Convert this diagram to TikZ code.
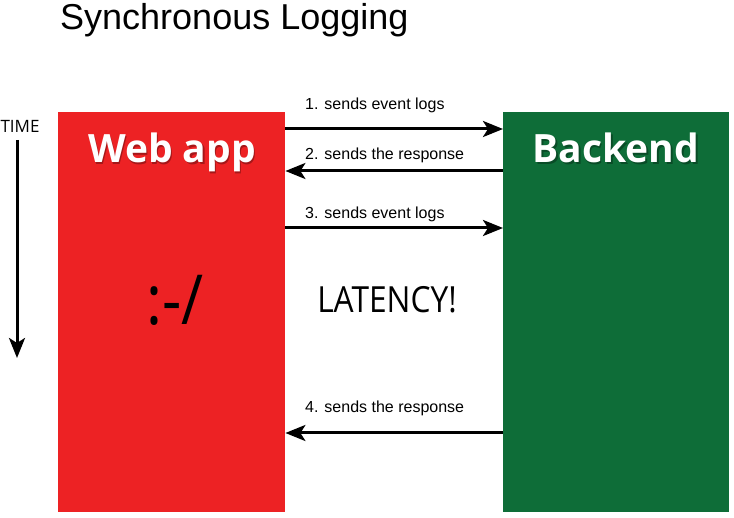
\documentclass[tikz,border=0pt]{standalone}
\usepackage{fontspec}
\setmainfont{Liberation Sans}
\newfontfamily\osans{Open Sans}
\usetikzlibrary{arrows.meta}
\definecolor{webred}{HTML}{ED2224}
\definecolor{bkgreen}{HTML}{0E6D38}
\begin{document}
\begin{tikzpicture}[x=1pt,y=-1pt,
  box/.style={draw=none,inner sep=0pt,minimum width=227pt,minimum height=400pt,anchor=north west},
  boxtitle/.style={font=\osans\bfseries\fontsize{39}{41}\selectfont,text=white,inner sep=0pt,anchor=base},
  boxshadow/.style={font=\osans\bfseries\fontsize{39}{41}\selectfont,text=black,opacity=0.3,inner sep=0pt,anchor=base},
  msg/.style={line width=3pt,-{Stealth[length=20pt,width=16pt,inset=5pt]}},
  lbl/.style={font=\fontsize{16}{18}\selectfont,inner sep=0pt,anchor=west}]
\useasboundingbox (0,0) rectangle (734,518);
\node[box,fill=webred] (web) at (58,112) {};
\node[box,fill=bkgreen,minimum width=226pt] (be) at (503,112) {};
\node[font=\fontsize{36}{40}\selectfont,anchor=base west,inner sep=0pt] (title) at (60,30) {Synchronous Logging};
% box titles
\node[boxshadow] at (173.5,164.5) {Web app};
\node[boxtitle] (webt) at (172,163) {Web app};
\node[boxshadow] at (617.5,164.5) {Backend};
\node[boxtitle] (bet) at (616,163) {Backend};
% messages
\draw[msg] (web.east |- 0,129) -- (be.west |- 0,129);
\draw[msg] (be.west |- 0,171) -- (web.east |- 0,171);
\draw[msg] (web.east |- 0,228) -- (be.west |- 0,228);
\draw[msg] (be.west |- 0,433) -- (web.east |- 0,433);
\node[lbl] (l1) at (305,105) {1. sends event logs};
\node[lbl] (l2) at (305,155) {2. sends the response};
\node[lbl] (l3) at (305,214) {3. sends event logs};
\node[lbl] (l4) at (305,408) {4. sends the response};
% texts
\node[font=\osans\fontsize{36}{40}\selectfont,inner sep=0pt] (lat) at (387,300) {\scalebox{0.88}[1]{LATENCY!}};
\node[font=\osans\fontsize{60}{64}\selectfont,inner sep=0pt] (face) at (175,300) {\scalebox{1}[1.15]{:-/}};
% time
\node[font=\osans\fontsize{17}{19}\selectfont,inner sep=0pt] (time) at (20,126) {TIME};
\coordinate (tend) at (17,358);
\draw[msg] (17,140) -- (tend);
\end{tikzpicture}
\end{document}
